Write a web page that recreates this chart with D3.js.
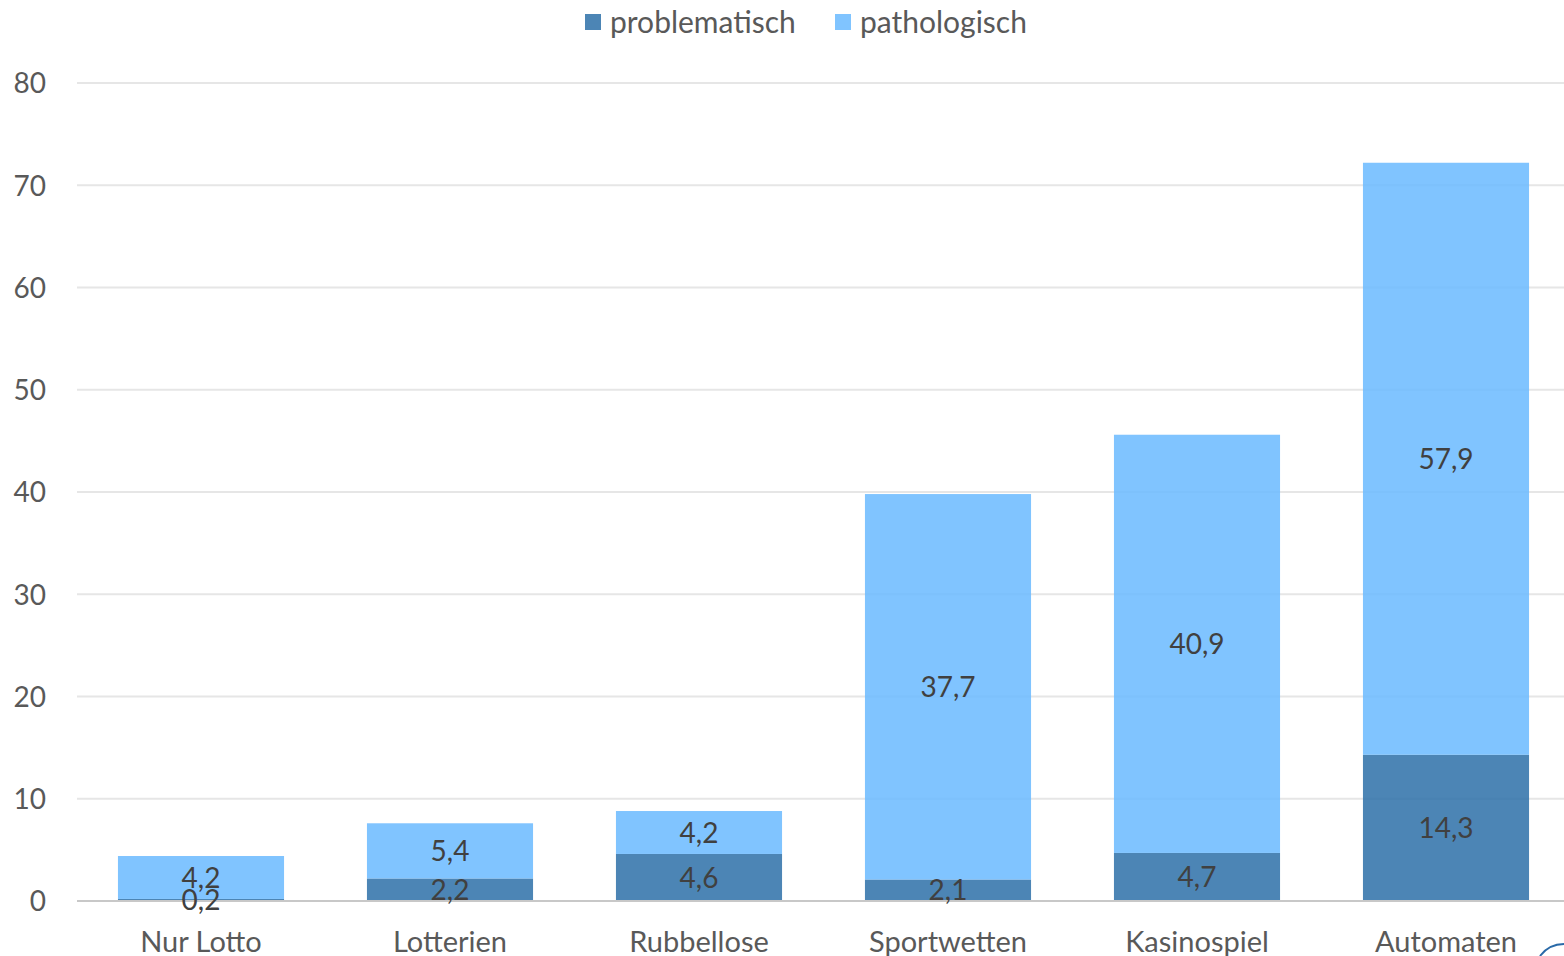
<!DOCTYPE html>
<html><head><meta charset="utf-8">
<script src="https://cdn.jsdelivr.net/npm/d3@7"></script>
<style>html,body{margin:0;padding:0;background:#fff;overflow:hidden}svg{display:block}</style>
</head><body>
<svg id="c" width="1564" height="956"></svg>
<script>
const categories = ["Nur Lotto","Lotterien","Rubbellose","Sportwetten","Kasinospiel","Automaten"];
const problematisch = [0.2,2.2,4.6,2.1,4.7,14.3];
const pathologisch = [4.2,5.4,4.2,37.7,40.9,57.9];
const seriesNames = ["problematisch","pathologisch"];
const yTicks = [0,10,20,30,40,50,60,70,80];

const W=1564,H=956;
const svg=d3.select("#c");
const font="Lato, 'Open Sans', sans-serif";
const colors={problematisch:"#2D70A8",pathologisch:"#6ABAFF"};
const x=d3.scaleBand().domain(categories).range([76.5,1570.5]).paddingInner(0.333).paddingOuter(0.1665);
const y=d3.scaleLinear().domain([0,80]).range([901,83]);

// gridlines
svg.append("g").selectAll("line").data(yTicks.filter(d=>d>0)).join("line")
 .attr("x1",77).attr("x2",W).attr("y1",d=>y(d)).attr("y2",d=>y(d))
 .attr("stroke","#e6e6e6").attr("stroke-width",2);

// y axis labels
const ya=d3.axisLeft(y).tickValues(yTicks).tickSize(0).tickPadding(0);
const yg=svg.append("g").attr("transform","translate(46,0)").call(ya);
yg.select(".domain").remove();
yg.selectAll("text").attr("font-family",font).attr("font-size",28).attr("fill","#595959").attr("dy","0.35em");

const rows=categories.map((c,i)=>({cat:c,problematisch:problematisch[i],pathologisch:pathologisch[i]}));
const stack=d3.stack().keys(seriesNames)(rows);

const bars=svg.append("g");
stack.forEach(s=>{
  bars.append("g").selectAll("rect").data(s).join("rect")
   .attr("x",d=>x(d.data.cat)).attr("width",x.bandwidth())
   .attr("y",d=>y(d[1])).attr("height",d=>y(d[0])-y(d[1]))
   .attr("fill",colors[s.key]).attr("fill-opacity",0.85);
});

// zero axis line
svg.append("line").attr("x1",77).attr("x2",W).attr("y1",y(0)).attr("y2",y(0))
 .attr("stroke","#c8c8c8").attr("stroke-width",2);

// value labels
stack.forEach(s=>{
  svg.append("g").selectAll("text").data(s).join("text")
   .attr("x",d=>x(d.data.cat)+x.bandwidth()/2)
   .attr("y",d=>(y(d[0])+y(d[1]))/2)
   .attr("dy","0.36em").attr("text-anchor","middle")
   .attr("font-family",font).attr("font-size",28).attr("fill","#404040")
   .text(d=>(d.data[s.key]).toFixed(1).replace(".",","));
});

// x axis labels
const xa=d3.axisBottom(x).tickSize(0).tickPadding(0);
const xg=svg.append("g").attr("transform","translate(0,"+(y(0)+30)+")").call(xa);
xg.select(".domain").remove();
xg.selectAll("text").attr("font-family",font).attr("font-size",29).attr("fill","#595959").attr("dy","0.71em");

// legend
const leg=[{k:"problematisch",sx:585,tx:610},{k:"pathologisch",sx:835,tx:860}];
leg.forEach(l=>{
  svg.append("rect").attr("x",l.sx).attr("y",14).attr("width",16).attr("height",16)
   .attr("fill",colors[l.k]).attr("fill-opacity",0.85);
  svg.append("text").attr("x",l.tx).attr("y",22).attr("dy","0.36em")
   .attr("font-family",font).attr("font-size",30).attr("fill","#595959").text(l.k);
});

// logo fragment bottom right
svg.append("path").attr("d","M1540,956 A 30 30 0 0 1 1564,944")
 .attr("fill","none").attr("stroke","#2a6aa8").attr("stroke-width",2);
</script>
</body></html>
